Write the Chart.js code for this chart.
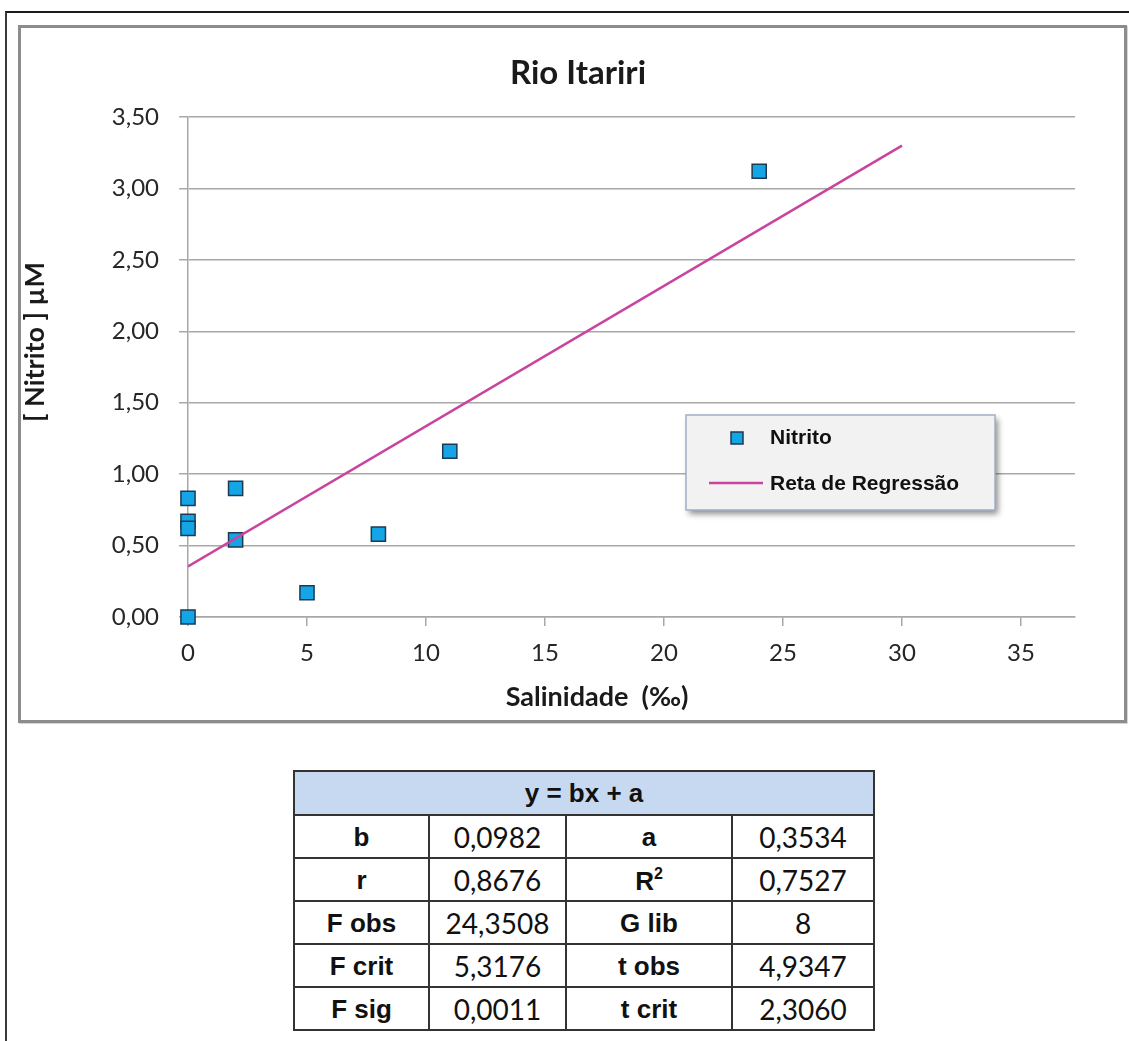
<!DOCTYPE html>
<html>
<head>
<meta charset="utf-8">
<script src="https://cdn.jsdelivr.net/npm/chart.js@4.4.0/dist/chart.umd.min.js"></script>
<style>
  body { margin: 0; background: #fff; width: 1129px; height: 1041px; overflow: hidden; position: relative; }
  .frame { position: absolute; left: 5px; top: 11px; width: 1140px; height: 1050px; border-top: 2px solid #1a1a1a; border-left: 2px solid #3a3a3a; }
  .box { position: absolute; left: 18px; top: 25px; width: 1103px; height: 692px; border: 3px solid #8c8c8c; background: #fff; box-shadow: 1px 1px 0 #d6d6d6; }
  .box canvas { display: block; }
  table.stats { position: absolute; left: 293px; top: 770px; width: 580px; table-layout: fixed; border-collapse: collapse; color: #111; }
  table.stats td { border: 2px solid #333; text-align: center; padding: 0; height: 41px; line-height: 1; }
  table.stats td.lab { font-family: "Liberation Sans", Arial, sans-serif; font-weight: bold; font-size: 26px; }
  table.stats td.val { font-family: Lato, "Open Sans", sans-serif; font-size: 28px; }
  table.stats td.head { background: #c6d9f0; height: 42px; font-family: "Liberation Sans", Arial, sans-serif; font-weight: bold; font-size: 26px; }
  table.stats sup { font-size: 16px; vertical-align: 11px; }
</style>
</head>
<body>
<div class="frame"></div>
<div class="box"><canvas id="grafico" width="1103" height="692"></canvas></div>
<table class="stats" id="tabela"></table>

<script>
// dados
const salinidade = [0, 0, 0, 0, 2, 2, 5, 8, 11, 24];
const nitrito = [0.00, 0.83, 0.67, 0.62, 0.90, 0.54, 0.17, 0.58, 1.16, 3.12];

// reta de regressão (extremos)
const retaX = [0, 30];
const retaY = [0.3534, 3.2994];

// eixos
const xTicks = [0, 5, 10, 15, 20, 25, 30, 35];
const xTickLabels = ['0', '5', '10', '15', '20', '25', '30', '35'];
const yTicks = [0, 0.5, 1, 1.5, 2, 2.5, 3, 3.5];
const yTickLabels = ['0,00', '0,50', '1,00', '1,50', '2,00', '2,50', '3,00', '3,50'];

// tabela de estatísticas
const colLabels1 = ['b', 'r', 'F obs', 'F crit', 'F sig'];
const colValues1 = ['0,0982', '0,8676', '24,3508', '5,3176', '0,0011'];
const colLabels2 = ['a', 'R<sup>2</sup>', 'G lib', 't obs', 't crit'];
const colValues2 = ['0,3534', '0,7527', '8', '4,9347', '2,3060'];

// monta a tabela
function montarTabela() {
    const tabela = document.getElementById('tabela');
    const larguras = [135, 137, 166, 142];
    let html = '<colgroup>';
    larguras.forEach(function (l) { html += '<col style="width:' + l + 'px">'; });
    html += '</colgroup><tr><td class="head" colspan="4">y = bx + a</td></tr>';
    for (let i = 0; i < colLabels1.length; i++) {
        html += '<tr>' +
            '<td class="lab">' + colLabels1[i] + '</td>' +
            '<td class="val">' + colValues1[i] + '</td>' +
            '<td class="lab">' + colLabels2[i] + '</td>' +
            '<td class="val">' + colValues2[i] + '</td>' +
            '</tr>';
    }
    tabela.innerHTML = html;
}

const corPonto = '#13a5e6';
const corBordaPonto = '#1d3a52';
const corReta = '#c8449e';
const corGrade = '#a8a8a8';

// títulos dos eixos e legenda desenhados à mão
const extras = {
    id: 'extras',
    afterDraw(chart) {
        const ctx = chart.ctx;
        ctx.save();
        ctx.fillStyle = '#1a1a1a';
        ctx.font = 'bold 27px Lato, sans-serif';
        ctx.textAlign = 'center';
        ctx.textBaseline = 'middle';
        ctx.fillText('Salinidade  (‰)', 576, 669);
        ctx.translate(14, 314);
        ctx.rotate(-Math.PI / 2);
        ctx.fillText('[ Nitrito ] µM', 0, 0);
        ctx.restore();

        // legenda
        ctx.save();
        ctx.shadowColor = 'rgba(0,0,0,0.45)';
        ctx.shadowOffsetX = 3;
        ctx.shadowOffsetY = 4;
        ctx.shadowBlur = 6;
        ctx.fillStyle = '#f2f2f2';
        ctx.fillRect(665, 387, 309, 95);
        ctx.restore();
        ctx.save();
        ctx.strokeStyle = '#9fb0c4';
        ctx.lineWidth = 1.5;
        ctx.strokeRect(665, 387, 309, 95);

        ctx.fillStyle = corPonto;
        ctx.strokeStyle = corBordaPonto;
        ctx.lineWidth = 1.5;
        ctx.fillRect(710, 404, 12, 12);
        ctx.strokeRect(710, 404, 12, 12);

        ctx.strokeStyle = corReta;
        ctx.lineWidth = 2.5;
        ctx.beginPath();
        ctx.moveTo(688, 455);
        ctx.lineTo(742, 455);
        ctx.stroke();

        ctx.fillStyle = '#111';
        ctx.font = 'bold 21px "Liberation Sans", Arial, sans-serif';
        ctx.textAlign = 'left';
        ctx.textBaseline = 'middle';
        ctx.fillText('Nitrito', 749, 410);
        ctx.fillText('Reta de Regressão', 749, 456);
        ctx.restore();
    }
};

function criarGrafico() {
    const pontos = salinidade.map(function (x, i) { return { x: x, y: nitrito[i] }; });
    const reta = retaX.map(function (x, i) { return { x: x, y: retaY[i] }; });

    new Chart(document.getElementById('grafico'), {
        type: 'scatter',
        data: {
            datasets: [
                {
                    label: 'Nitrito',
                    data: pontos,
                    pointStyle: 'rect',
                    pointRadius: 10,
                    backgroundColor: corPonto,
                    borderColor: corBordaPonto,
                    borderWidth: 1.5,
                    clip: false,
                    order: 1
                },
                {
                    label: 'Reta de Regressão',
                    type: 'line',
                    data: reta,
                    borderColor: corReta,
                    borderWidth: 2.5,
                    pointRadius: 0,
                    fill: false,
                    order: 0
                }
            ]
        },
        options: {
            responsive: false,
            animation: false,
            layout: { padding: { left: 60, right: 49, top: 0, bottom: 0 } },
            plugins: {
                legend: { display: false },
                tooltip: { enabled: false },
                title: {
                    display: true,
                    text: 'Rio Itariri',
                    color: '#1a1a1a',
                    font: { family: 'Lato, sans-serif', size: 33, weight: 'bold', lineHeight: 1.2 },
                    padding: { top: 26, bottom: 23.4 }
                }
            },
            scales: {
                x: {
                    type: 'linear',
                    min: 0,
                    max: 37.27,
                    afterBuildTicks: function (axis) {
                        axis.ticks = xTicks.map(function (v) { return { value: v }; });
                    },
                    afterFit: function (axis) { axis.height = 103; },
                    ticks: {
                        color: '#262626',
                        font: { family: 'Lato, sans-serif', size: 24 },
                        padding: 13,
                        maxRotation: 0,
                        callback: function (v, i) { return xTickLabels[i]; }
                    },
                    grid: { drawOnChartArea: false, drawTicks: true, tickLength: 9, color: corGrade, lineWidth: 1.5 },
                    border: { color: corGrade, width: 1.5 }
                },
                y: {
                    min: 0,
                    max: 3.5,
                    afterBuildTicks: function (axis) {
                        axis.ticks = yTicks.map(function (v) { return { value: v }; });
                    },
                    afterFit: function (axis) { axis.width = 107; },
                    ticks: {
                        color: '#262626',
                        font: { family: 'Lato, sans-serif', size: 24 },
                        padding: 20,
                        callback: function (v, i) { return yTickLabels[i]; }
                    },
                    grid: { color: corGrade, lineWidth: 1.5, tickLength: 9 },
                    border: { color: corGrade, width: 1.5 }
                }
            }
        },
        plugins: [extras]
    });
}

window.addEventListener('load', function () {
    montarTabela();
    criarGrafico();
});
</script>
</body>
</html>
